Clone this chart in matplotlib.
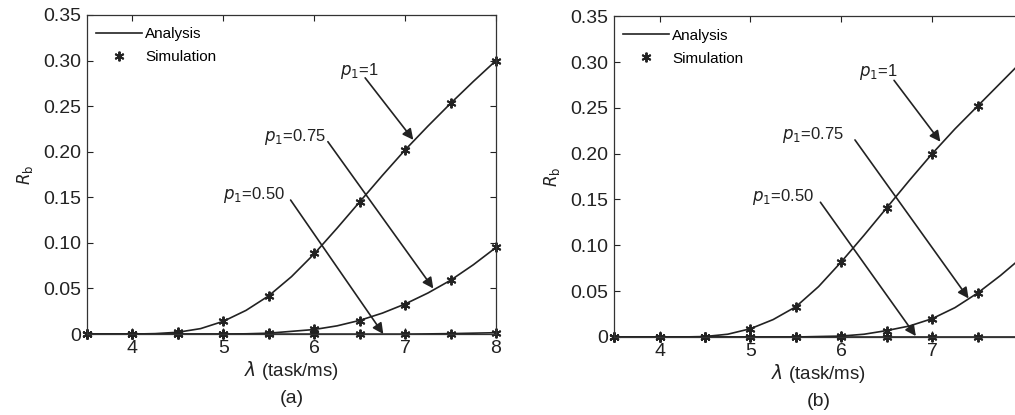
import matplotlib.pyplot as plt

plt.rcParams['font.family'] = ['Liberation Sans', 'DejaVu Sans']

# simulation points (step 0.5)
lam_sim = [3.5, 4.0, 4.5, 5.0, 5.5, 6.0, 6.5, 7.0, 7.5, 8.0]
sim_a_p100 = [0, 0, 0.002, 0.014, 0.042, 0.089, 0.145, 0.202, 0.253, 0.300]
sim_a_p075 = [0, 0, 0, 0, 0.001, 0.006, 0.014, 0.032, 0.059, 0.095]
sim_a_p050 = [0, 0, 0, 0, 0, 0, 0, 0, 0.0005, 0.0015]
sim_b_p100 = [0, 0, 0, 0.009, 0.033, 0.082, 0.141, 0.200, 0.252, 0.302]
sim_b_p075 = [0, 0, 0, 0, 0, 0.001, 0.007, 0.020, 0.048, 0.088]
sim_b_p050 = [0, 0, 0, 0, 0, 0, 0, 0, 0, 0]

# analysis curves (read at step 0.25)
lam_ana = [3.5, 3.75, 4.0, 4.25, 4.5, 4.75, 5.0, 5.25, 5.5, 5.75,
           6.0, 6.25, 6.5, 6.75, 7.0, 7.25, 7.5, 7.75, 8.0]
ana_a_p100 = [0, 0, 0, 0.0005, 0.002, 0.006, 0.014, 0.026, 0.042, 0.063,
              0.088, 0.116, 0.145, 0.174, 0.202, 0.228, 0.253, 0.277, 0.300]
ana_a_p075 = [0, 0, 0, 0, 0, 0, 0, 0.0003, 0.001, 0.003,
              0.005, 0.009, 0.015, 0.023, 0.033, 0.045, 0.059, 0.076, 0.095]
ana_a_p050 = [0, 0, 0, 0, 0, 0, 0, 0, 0, 0,
              0, 0, 0, 0, 0, 0.0002, 0.0005, 0.001, 0.0015]
ana_b_p100 = [0, 0, 0, 0, 0.0005, 0.003, 0.009, 0.019, 0.033, 0.055,
              0.082, 0.111, 0.141, 0.171, 0.200, 0.227, 0.252, 0.277, 0.302]
ana_b_p075 = [0, 0, 0, 0, 0, 0, 0, 0, 0, 0.0005,
              0.001, 0.003, 0.007, 0.012, 0.020, 0.032, 0.048, 0.067, 0.088]
ana_b_p050 = [0] * 19

yticks = [0, 0.05, 0.10, 0.15, 0.20, 0.25, 0.30, 0.35]
ytick_labels = ['0', '0.05', '0.10', '0.15', '0.20', '0.25', '0.30', '0.35']
xticks_a = [4, 5, 6, 7, 8]
xticks_b = [4, 5, 6, 7]   # the 8 of panel (b) falls outside the picture

# annotations: label, text pos, arrow start, arrow head
notes_a = [(r'$p_1$=1', (6.28, 0.289), (6.56, 0.281), (7.09, 0.213)),
           (r'$p_1$=0.75', (5.45, 0.216), (6.15, 0.211), (7.31, 0.050)),
           (r'$p_1$=0.50', (5.0, 0.153), (5.74, 0.147), (6.76, 0.0))]
notes_b = [(r'$p_1$=1', (6.19, 0.289), (6.58, 0.280), (7.09, 0.213)),
           (r'$p_1$=0.75', (5.35, 0.220), (6.15, 0.215), (7.40, 0.042)),
           (r'$p_1$=0.50', (5.02, 0.153), (5.77, 0.147), (6.82, 0.001))]

fig = plt.figure(figsize=(10.15, 4.15), dpi=100)
ax_a = fig.add_axes([0.0857, 0.195, 0.403, 0.769])
ax_b = fig.add_axes([0.605, 0.188, 0.403, 0.773])

asterisk = (6, 2, 0)

panels = [
    (ax_a, [ana_a_p100, ana_a_p075, ana_a_p050], [sim_a_p100, sim_a_p075, sim_a_p050], notes_a, '(a)', xticks_a),
    (ax_b, [ana_b_p100, ana_b_p075, ana_b_p050], [sim_b_p100, sim_b_p075, sim_b_p050], notes_b, '(b)', xticks_b),
]

for ax, anas, sims, notes, tag, xt in panels:
    for i, (ana, sim) in enumerate(zip(anas, sims)):
        ax.plot(lam_ana, ana, color='#222222', lw=1.2,
                label='Analysis' if i == 0 else None)
        ax.plot(lam_sim, sim, linestyle='none', marker=asterisk, ms=7,
                mew=1.4, color='#222222', clip_on=False,
                label='Simulation' if i == 0 else None)
    for label, tpos, start, head in notes:
        ax.text(tpos[0], tpos[1], label, fontsize=12, ha='left', va='center',
                color='#222222')
        ax.annotate('', xy=head, xytext=start,
                    arrowprops=dict(arrowstyle='-|>', color='#222222', lw=1.2,
                                    mutation_scale=16, shrinkA=0, shrinkB=0))
    ax.set_xlim(3.5, 8)
    ax.set_ylim(0, 0.35)
    ax.set_xticks(xt)
    ax.set_yticks(yticks)
    ax.set_yticklabels(ytick_labels)
    ax.tick_params(direction='in', top=True, right=True, length=4,
                   labelsize=14, colors='#222222', pad=4)
    for s in ax.spines.values():
        s.set_color('#333333')
        s.set_linewidth(0.9)
    ax.set_xlabel(r'$\lambda$ (task/ms)', fontsize=13.5, labelpad=2, color='#222222')
    ax.set_ylabel(r'$R_{\mathrm{b}}$', fontsize=12, labelpad=6, color='#222222')
    ax.legend(loc='upper left', frameon=False, fontsize=11, handlelength=3.0,
              handletextpad=0.2, borderaxespad=0.2, labelspacing=0.6,
              bbox_to_anchor=(0.0, 0.99))
    ax.text(0.5, -0.175, tag, transform=ax.transAxes, ha='center', va='top',
            fontsize=14, color='#222222')

fig.savefig('out.png', dpi=100)
